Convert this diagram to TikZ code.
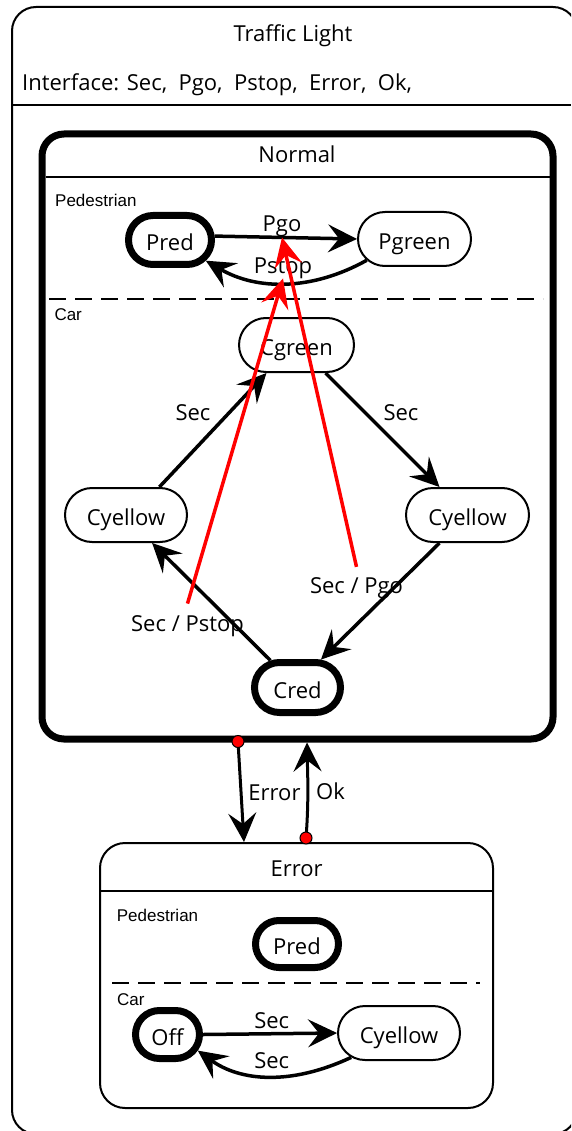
\documentclass[tikz,border=0pt]{standalone}
\usepackage{fontspec}
\setmainfont{Open Sans}
\newfontfamily\regionfont{Liberation Sans}
\usetikzlibrary{arrows.meta,shapes.misc,calc}

\begin{document}
\begin{tikzpicture}[x=1pt,y=-1pt,
  every node/.style={font=\fontsize{22}{26}\selectfont, inner sep=0pt},
  lbl/.style={anchor=base},
  region/.style={anchor=base west, font=\regionfont\fontsize{17}{20}\selectfont},
  stt/.style={rounded rectangle, draw, line width=2pt, minimum height=54pt, text height=21pt, text depth=0pt},
  initst/.style={stt, line width=7pt, minimum height=49pt},
  headtip/.tip={Stealth[length=29pt,width=28pt,inset=11pt,line width=2.5pt]},
  tr/.style={line width=3.5pt, -headtip},
  redtr/.style={tr, draw=red, fill=red},
  regionsep/.style={line width=2pt, dash pattern=on 17pt off 9pt},
  dot/.style={circle, fill=red, draw=black, line width=1pt, minimum size=12pt, inner sep=0pt},
]
\useasboundingbox (0,0) rectangle (571,1131);

% outer state, running past the page edges
\begin{scope}
  \clip (0,0) rectangle (571,1131);
  \draw[line width=2pt, rounded corners=24pt] (12,7) rectangle (577,1134);
\end{scope}
\node[lbl] (ttl) at (293,42) {Traffic Light};
\node[anchor=base west] (iface) at (22,91) {Interface: Sec,\ \ Pgo,\ \ Pstop,\ \ Error,\ \ Ok,};
\draw[line width=2pt] (12,105) -- (571,105);

% composite state Normal
\node[draw, line width=7pt, rounded corners=22pt, minimum width=511pt, minimum height=605pt] (normal) at (297.5,436.5) {};
\node[lbl] (ntitle) at (297,163) {Normal};
\draw[line width=2pt] (45.5,177) -- (549.5,177);
\node[region] (nped) at (55,206.7) {Pedestrian};
\draw[regionsep] (49,299) -- (543,299);
\node[region] (ncar) at (54.3,320.7) {Car};

% Normal / Pedestrian
\node[initst, minimum width=83pt] (pred) at (170,240) {Pred};
\node[stt, minimum width=113pt] (pgreen) at (414.5,239) {Pgreen};
\draw[tr] (pred.5) -- (pgreen.west);
\draw[tr] (pgreen.204) .. controls (311.7,291) and (256.7,290.3) .. (pred.-30);
\node[lbl] (lpgo) at (282,232) {Pgo};
\node[lbl] (lpstop) at (283,273) {Pstop};

% Normal / Car
\node[stt, minimum width=115pt] (cg) at (296.5,345) {Cgreen};
\node[stt, minimum width=122pt] (lcy) at (126,515) {Cyellow};
\node[stt, minimum width=123pt] (rcy) at (467.5,515) {Cyellow};
\node[initst, minimum width=86pt, minimum height=50pt] (cred) at (297.5,687.5) {Cred};
\draw[tr] (lcy.40) -- (cg.223);
\draw[tr] (cg.-44) -- (rcy.135);
\draw[tr] (rcy.225) -- (cred.50);
\draw[tr] (cred.135) -- (lcy.-47);
\node[lbl] (lsec1) at (193,420.7) {Sec};
\node[lbl] (lsec2) at (401,420.7) {Sec};
\node[lbl] (lspgo) at (356.5,593) {Sec / Pgo};
\node[lbl] (lspstop) at (187.5,631.7) {Sec / Pstop};

% broadcast events
\draw[redtr] ([yshift=10pt]lspgo.north) -- (lpgo.south);
\draw[redtr] ([yshift=12pt]lspstop.north) -- (lpstop.south);

% composite state Error
\node[draw, line width=2pt, rounded corners=25pt, minimum width=393pt, minimum height=265pt] (errst) at (296.5,975.5) {};
\node[lbl] (etitle) at (296.7,876.7) {Error};
\draw[line width=2pt] (100,891) -- (493,891);
\node[region] (eped) at (116.7,921) {Pedestrian};
\draw[regionsep] (112,983) -- (480,983);
\node[region] (ecar) at (117,1005) {Car};
\node[initst, minimum width=83pt, minimum height=47pt] (epred) at (297,944) {Pred};
\node[initst, minimum width=64pt, minimum height=48pt] (off) at (167.5,1034.5) {Off};
\node[stt, minimum width=122pt] (ecy) at (399,1033) {Cyellow};
\draw[tr] (off.east) -- (ecy.west);
\draw[tr] (ecy.207) .. controls (290,1086) and (240,1081) .. (off.-28);
\node[lbl] (lesec1) at (271.7,1028) {Sec};
\node[lbl] (lesec2) at (271.7,1068.3) {Sec};

% transitions between Normal and Error
\coordinate (edotc) at ([xshift=-59.5pt,yshift=1pt]normal.south);
\coordinate (odotc) at ([xshift=9.5pt,yshift=4pt]errst.north);
\draw[tr, line width=3pt] (edotc) -- ([xshift=-52.5pt]errst.north);
\draw[tr, line width=3pt] (odotc) .. controls (309,800) and (307.5,770) .. ([xshift=9.5pt]normal.south);
\node[dot] (edot) at (edotc) {};
\node[dot] (odot) at (odotc) {};
\node[lbl] (lerr) at (274.5,800) {Error};
\node[lbl] (lok) at (330.5,799) {Ok};
\end{tikzpicture}
\end{document}
